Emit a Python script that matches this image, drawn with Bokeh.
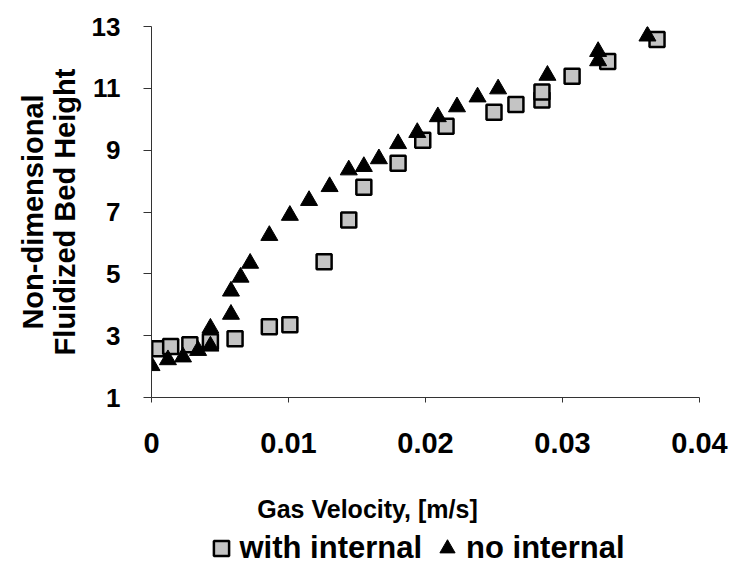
from bokeh.plotting import figure
from bokeh.layouts import column
from bokeh.models import Legend, LegendItem, FixedTicker, NumeralTickFormatter, Range1d, Label
from bokeh.embed import file_html
from bokeh.resources import INLINE

# data
with_x = [0.0006, 0.0014, 0.0028, 0.0043, 0.0061, 0.0086, 0.0101, 0.0126, 0.0144, 0.0155,
          0.0180, 0.0198, 0.0215, 0.0250, 0.0266, 0.0285, 0.0285, 0.0307, 0.0333, 0.0369]
with_y = [2.58, 2.65, 2.71, 2.80, 2.90, 3.29, 3.35, 5.39, 6.74, 7.80,
          8.58, 9.32, 9.77, 10.23, 10.48, 10.62, 10.88, 11.39, 11.87, 12.58]

no_x = [0.0, 0.0012, 0.0023, 0.0034, 0.0043, 0.0043, 0.0058, 0.0058, 0.0065, 0.0072,
        0.0086, 0.0101, 0.0115, 0.0130, 0.0144, 0.0155, 0.0166, 0.0180, 0.0194, 0.0209,
        0.0223, 0.0238, 0.0253, 0.0289, 0.0326, 0.0326, 0.0362]
no_y = [2.03, 2.22, 2.31, 2.52, 2.66, 3.24, 3.69, 4.44, 4.89, 5.34,
        6.24, 6.89, 7.37, 7.82, 8.36, 8.47, 8.72, 9.21, 9.57, 10.08,
        10.40, 10.72, 10.98, 11.42, 11.89, 12.19, 12.69]

x_ticks = [0, 0.01, 0.02, 0.03, 0.04]
y_ticks = [1, 3, 5, 7, 9, 11, 13]

x_title = "Gas Velocity, [m/s]"
y_title = "Non-dimensional\nFluidized Bed Height"
series_names = ["with internal", "no internal"]

FONT = "Liberation Sans"
SQ_STYLE = dict(marker="square", size=15, fill_color="#c4c4c4", line_color="black", line_width=2.5)
TRI_STYLE = dict(marker="triangle", size=17, fill_color="black", line_color="black")

# ---------------- main plot ----------------
p = figure(frame_width=548, frame_height=371, output_backend="svg", toolbar_location=None,
           x_range=Range1d(0, 0.04), y_range=Range1d(1, 13),
           min_border_left=151, min_border_right=34, min_border_top=26, min_border_bottom=70)
p.outline_line_color = None
p.xgrid.visible = False
p.ygrid.visible = False
p.background_fill_color = "white"
p.border_fill_color = "white"

p.scatter(with_x, with_y, **SQ_STYLE)
p.scatter(no_x, no_y, **TRI_STYLE)

p.xaxis.ticker = FixedTicker(ticks=x_ticks)
p.xaxis.formatter = NumeralTickFormatter(format="0.[00]")
p.yaxis.ticker = FixedTicker(ticks=y_ticks)
for ax in (p.xaxis[0], p.yaxis[0]):
    ax.axis_line_color = "#333333"
    ax.axis_line_width = 1
    ax.major_tick_line_color = "#333333"
    ax.minor_tick_line_color = None
    ax.major_tick_in = 0
    ax.major_label_text_font = FONT
    ax.major_label_text_font_style = "bold"
    ax.major_label_text_color = "black"
    ax.axis_label_text_font = FONT
    ax.axis_label_text_font_style = "bold"
    ax.axis_label_text_color = "black"

p.xaxis.major_tick_out = 5
p.xaxis.major_label_text_font_size = "29px"
p.xaxis.major_label_standoff = 30

p.yaxis.major_tick_out = 8
p.yaxis.major_label_text_font_size = "26px"
p.yaxis.major_label_standoff = 23
p.yaxis.axis_label = y_title
p.yaxis.axis_label_text_font_size = "29px"
p.yaxis.axis_label_text_line_height = 1.0
p.yaxis.axis_label_standoff = 8

# ---------------- x title + legend strip (frame aligned with the main plot) ----------------
q = figure(frame_width=548, frame_height=103, output_backend="svg", toolbar_location=None,
           x_range=Range1d(0, 1), y_range=Range1d(-2, -1),
           x_axis_location=None, y_axis_location=None,
           min_border_left=151, min_border_right=34, min_border_top=0, min_border_bottom=0)
q.outline_line_color = None
q.xgrid.visible = False
q.ygrid.visible = False
q.background_fill_color = "white"
q.border_fill_color = "white"

q.add_layout(Label(x=216, y=62, x_units="screen", y_units="screen", text=x_title,
                   text_font=FONT, text_font_style="bold", text_font_size="25px",
                   text_color="black", text_align="center", text_baseline="middle"))

# legend renderers carry the same series (outside this strip's view; only their legend glyphs show)
r_sq = q.scatter(with_x, with_y, **SQ_STYLE)
r_tri = q.scatter(no_x, no_y, **TRI_STYLE)
legend = Legend(items=[LegendItem(label=series_names[0], renderers=[r_sq]),
                       LegendItem(label=series_names[1], renderers=[r_tri])],
                orientation="horizontal", location=(50.5, 3),
                label_text_font=FONT, label_text_font_style="bold",
                label_text_font_size="31px", label_text_color="black",
                glyph_width=38, glyph_height=38, spacing=6, label_standoff=-8,
                border_line_color=None, background_fill_alpha=0,
                padding=0, margin=0)
q.add_layout(legend)

layout = column(p, q, spacing=0)
open("out.html", "w").write(file_html(layout, INLINE))
